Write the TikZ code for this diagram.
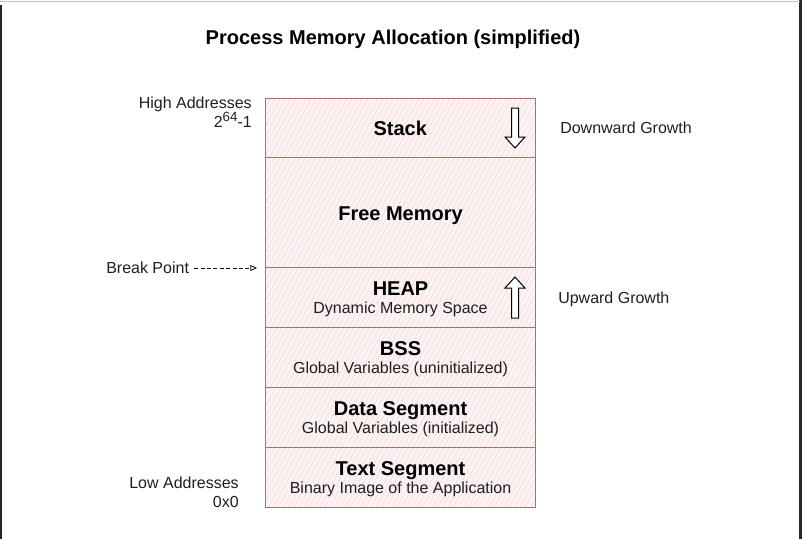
\documentclass[tikz,border=0pt]{standalone}
\usepackage{fontspec}
\setmainfont{Liberation Sans}
\usetikzlibrary{patterns.meta,arrows.meta,calc}
\definecolor{segline}{HTML}{B86A68}
\definecolor{segfill}{HTML}{FCF4F4}
\definecolor{hatch}{HTML}{F5D6D6}
\definecolor{txt}{HTML}{1F1F1F}
\begin{document}
\begin{tikzpicture}[x=0.75pt,y=-0.75pt,
  seg/.style={draw=segline, line width=0.8pt, preaction={fill=segfill},
    pattern={Lines[angle=62,distance=3.4pt,line width=0.4pt]}, pattern color=hatch,
    minimum width=202.5pt, inner sep=0pt, anchor=north west},
  big/.style={font=\fontsize{15}{18}\selectfont\bfseries, text=black, inner sep=0pt, anchor=base},
  small/.style={font=\fontsize{12}{14}\selectfont, text=txt, inner sep=0pt, anchor=base},
  blockarrow/.style={draw=black, line width=0.75pt, fill=white, line join=miter}
]
\useasboundingbox (0,0) rectangle (804,539);
% window frame
\draw[black!85, line width=1.5pt] (1,5) -- (1,539);
\draw[black!85, line width=2pt] (800.5,0) -- (800.5,539);
\draw[black!25, line width=0.6pt] (0,1) -- (800,1);

% title
\node[big] (title) at (393,45) {Process Memory Allocation (simplified)};

% segments
\node[seg, minimum height=45pt]   (stack) at (265,98)  {};
\node[seg, minimum height=82.5pt] (free)  at (265,157) {};
\node[seg, minimum height=45pt]   (heap)  at (265,267) {};
\node[seg, minimum height=45pt]   (bss)   at (265,327) {};
\node[seg, minimum height=45pt]   (data)  at (265,387) {};
\node[seg, minimum height=45pt]   (text)  at (265,447) {};

% segment texts
\node[big] (stackT) at ($(stack.center)+(0,7.5)$) {Stack};
\node[big] (freeT)  at ($(free.center)+(0,8)$) {Free Memory};
\node[big] (heapT)  at ($(heap.center)+(0,-2)$) {HEAP};
\node[small] (heapS) at ($(heap.center)+(0,16)$) {Dynamic Memory Space};
\node[big] (bssT)   at ($(bss.center)+(0,-2)$) {BSS};
\node[small] (bssS) at ($(bss.center)+(0,16)$) {Global Variables (uninitialized)};
\node[big] (dataT)  at ($(data.center)+(0,-2)$) {Data Segment};
\node[small] (dataS) at ($(data.center)+(0,16)$) {Global Variables (initialized)};
\node[big] (textT)  at ($(text.center)+(0,-2)$) {Text Segment};
\node[small] (textS) at ($(text.center)+(0,16)$) {Binary Image of the Application};

% block arrows
\draw[blockarrow] (511.5,108) -- (518.5,108) -- (518.5,137) -- (525,137) -- (515,148)
  -- (505,137) -- (511.5,137) -- cycle;
\draw[blockarrow] (511.5,318) -- (518.5,318) -- (518.5,288) -- (525,288) -- (515,277)
  -- (505,288) -- (511.5,288) -- cycle;

% side labels
\node[small, anchor=base east] (high) at (252,108) {High Addresses};
\node[small, anchor=base east] (highv) at (252,127) {2{\fontsize{10}{12}\selectfont\raisebox{0.45em}{64}}-1};
\node[small, anchor=base east] (low) at (239,488) {Low Addresses};
\node[small, anchor=base east] (lowv) at (239,507) {0x0};
\node[small, anchor=base west] (down) at (560,133) {Downward Growth};
\node[small, anchor=base west] (up) at (558,303) {Upward Growth};
\node[small, anchor=base west] (bp) at (106,273) {Break Point};

% break point arrow
\coordinate (bpend) at ($(heap.north west)+(-8,1)$);
\draw[dashed, dash pattern=on 3pt off 1.8pt, line width=0.6pt, black,
  -{Triangle[open, length=5pt, width=4.5pt]}]
  ($(bp.base east)+(5,-5)$) -- (bpend);
\end{tikzpicture}
\end{document}
